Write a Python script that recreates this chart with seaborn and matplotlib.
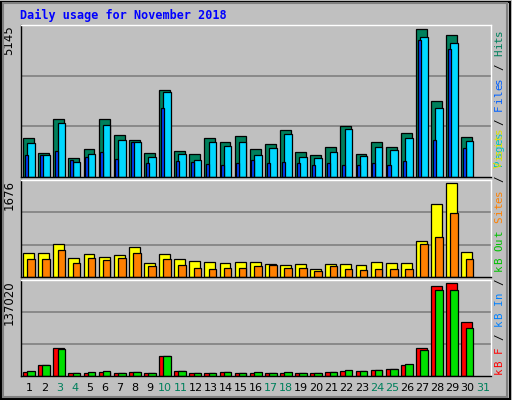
import numpy as np
import pandas as pd
import matplotlib
matplotlib.use('agg')
import matplotlib.pyplot as plt
import seaborn as sns

days = list(range(1, 31))
day_labels = [str(d) for d in range(1, 32)]
weekend = [3, 4, 10, 11, 17, 18, 24, 25, 31]

hits = [1374, 850, 2037, 675, 989, 2037, 1478, 1304, 850, 3050, 920, 815, 1374, 1234, 1443,
        989, 1164, 1653, 885, 780, 1059, 1793, 815, 1234, 1059, 1548, 5145, 2666, 4935, 1408]
files = [1199, 768, 1897, 535, 815, 1827, 1304, 1234, 710, 2980, 815, 605, 1234, 1094, 1234,
         780, 1024, 1513, 710, 675, 885, 1688, 745, 1059, 954, 1374, 4865, 2421, 4656, 1269]
pages = [757, 768, 896, 582, 687, 861, 617, 1234, 500, 2421, 570, 535, 466, 431, 500,
         605, 500, 535, 500, 431, 500, 431, 431, 500, 431, 570, 4761, 1304, 4446, 1024]
visits = [424, 424, 587, 333, 405, 351, 387, 532, 242, 405, 315, 278, 260, 242, 260,
          260, 224, 206, 224, 151, 224, 224, 206, 260, 242, 242, 641, 1295, 1676, 442]
sites = [315, 315, 478, 242, 333, 296, 333, 424, 188, 315, 206, 169, 151, 169, 169,
         188, 206, 169, 169, 115, 188, 151, 133, 151, 151, 151, 587, 714, 1131, 315]
kb_f = [6500, 15500, 41000, 4500, 5000, 6500, 4500, 6000, 4500, 29000, 8000, 4500, 4500, 6000, 4500,
        5000, 4500, 5000, 4500, 4500, 6000, 8000, 8000, 9500, 11000, 15500, 41000, 132500, 137020, 80000]
kb_out = [8000, 15500, 39500, 4500, 6000, 8000, 4500, 6000, 4500, 29000, 8000, 4500, 4500, 6000, 4500,
          6000, 4500, 6000, 4500, 4500, 6000, 9500, 8000, 9500, 11000, 17000, 38000, 126500, 126500, 71000]

BG = '#c0c0c0'
sns.set_style('white')
plt.rcParams['font.family'] = ['DejaVu Sans']

W, H = 512, 400
fig = plt.figure(figsize=(W / 100, H / 100), dpi=100, facecolor=BG)

def px_axes(x0, y0, x1, y1):
    return fig.add_axes([x0 / W, 1 - y1 / H, (x1 - x0) / W, (y1 - y0) / H])

def draw_series(ax, vals, offset, width, color):
    df = pd.DataFrame({'x': np.array(days) + offset, 'y': vals})
    sns.barplot(data=df, x='x', y='y', native_scale=True, width=width, color=color,
                saturation=1, edgecolor='black', linewidth=0.9, ax=ax)

def style_ax(ax, top, label):
    ax.set_facecolor(BG)
    ax.set_xlim(0.45, 31.55)
    ax.set_ylim(0, top * 1.03)
    for y in (top * 1.03 / 3, top * 1.03 * 2 / 3):
        ax.axhline(y, color='#808080', lw=1.2, zorder=0)
    ax.set_xticks([]); ax.set_yticks([])
    ax.set_xlabel(''); ax.set_ylabel('')
    for s in ax.spines.values():
        s.set_color('black'); s.set_linewidth(1)
    ax.spines['top'].set_color('white'); ax.spines['right'].set_color('white')
    ax.text(-0.012, 1.0, label, transform=ax.transAxes, rotation=90, ha='right', va='top',
            fontsize=8.5, color='black')

ax1 = px_axes(21, 25, 491, 177)
draw_series(ax1, hits, -0.05, 0.72, '#00805c')
draw_series(ax1, files, 0.12, 0.5, '#00d8ff')
draw_series(ax1, pages, -0.2, 0.2, '#0040ff')
style_ax(ax1, 5145, '5145')

ax2 = px_axes(21, 180, 491, 277)
draw_series(ax2, visits, -0.05, 0.72, '#ffff00')
draw_series(ax2, sites, 0.12, 0.5, '#ff8000')
style_ax(ax2, 1676, '1676')

ax3 = px_axes(21, 280, 491, 376)
draw_series(ax3, kb_f, -0.05, 0.72, '#ff0000')
draw_series(ax3, kb_out, 0.12, 0.5, '#00e000')
style_ax(ax3, 137020, '137020')

# day labels
for i, lab in enumerate(day_labels):
    d = i + 1
    ax3.text(d, -0.13, lab, transform=ax3.get_xaxis_transform(), ha='center', va='center',
             fontsize=8, color='#00805c' if d in weekend else 'black')

# right-hand legends, read bottom to top, one glyph at a time
def side_label(y_bottom, parts):
    y = y_bottom
    step = 6.85
    for txt, col in parts:
        for ch in txt:
            if ch != ' ':
                fig.text(499 / W, 1 - (y - step / 2) / H, ch, rotation=90, ha='center',
                         va='center', fontsize=7.8, family='DejaVu Sans Mono', color=col)
            y -= step

side_label(166, [('Pages', '#00c0c0'), (' / ', 'black'), ('Files', '#0060ff'),
                 (' / ', 'black'), ('Hits', '#00805c')])
side_label(374, [('kB F', '#ff0000'), (' / ', 'black'), ('kB In', '#0080ff'),
                 (' / ', 'black'), ('kB Out', '#00c000'), (' ', 'black'),
                 ('Sites', '#ff8000'), (' / ', 'black'), ('Visits', '#e0e000')])

fig.text(20 / W, 1 - 15 / H, 'Daily usage for November 2018', ha='left', va='center',
         fontsize=8.5, family='DejaVu Sans Mono', weight='bold', color='#0000ff')

# frame
fig.patches.append(plt.Rectangle((0.002, 0.002), 0.994, 0.994, transform=fig.transFigure,
                                 fill=False, edgecolor='black', lw=1.5))
fig.patches.append(plt.Rectangle((0.006, 0.008), 0.985, 0.985, transform=fig.transFigure,
                                 fill=False, edgecolor='#808080', lw=1.5))

fig.savefig('out.png', dpi=100, facecolor=BG)
